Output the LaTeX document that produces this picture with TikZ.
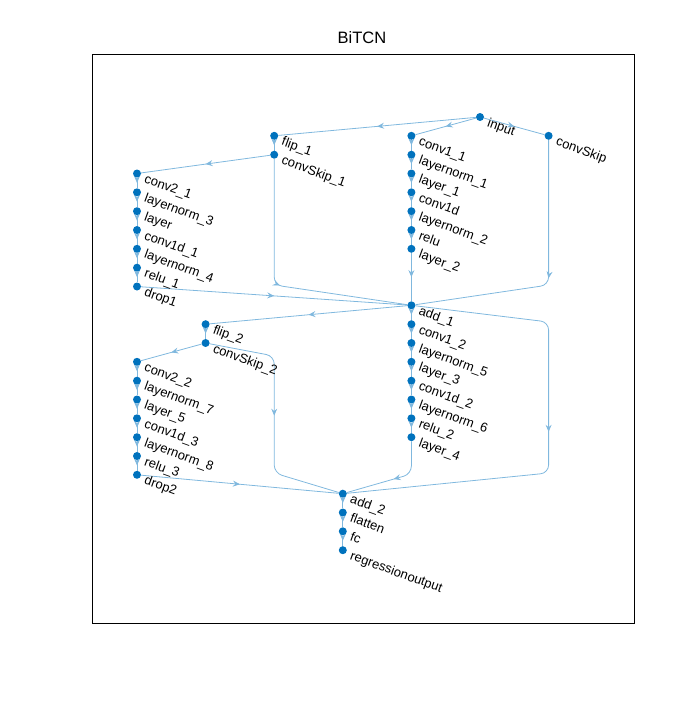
\documentclass[tikz,border=0pt]{standalone}
\usepackage{fontspec}
\setmainfont{Liberation Sans}
\usetikzlibrary{decorations.markings,arrows.meta}
\definecolor{nodeblue}{HTML}{0072BD}
\definecolor{edgeblue}{HTML}{80B8DE}
\pgfdeclarelayer{bg}
\pgfsetlayers{bg,main}
\tikzset{
  lnode/.style={circle, fill=nodeblue, inner sep=0pt, minimum size=8pt},
  lab/.style={rotate=-20, anchor=base west, inner sep=0pt, font=\fontsize{13}{15}\selectfont},
  edge/.style={color=edgeblue, line width=0.8pt, rounded corners=8pt, postaction={decorate},
    decoration={markings, mark=at position 0.5 with {\arrow{Stealth[length=7pt,width=6pt,inset=2.5pt]}}}},
}
\begin{document}
\begin{tikzpicture}[x=1pt,y=-1pt]
\useasboundingbox (0,0) rectangle (700,701);
\draw[line width=0.6pt] (92,54) rectangle (634,623);
\node[font=\fontsize{16.5}{18}\selectfont] (title) at (362,38) {BiTCN};
\foreach \n/\x/\y/\t in {
  input/480/117/input,
  convSkip/548.6/135.8/convSkip,
  conv11/411.4/135.8/conv1\_1,
  flip1/274.2/135.8/flip\_1,
  convSkip1/274.2/154.7/convSkip\_1,
  layernorm1/411.4/154.7/layernorm\_1,
  layer1/411.4/173.5/layer\_1,
  conv1d/411.4/192.3/conv1d,
  layernorm2/411.4/211.2/layernorm\_2,
  relu/411.4/230/relu,
  layer2/411.4/248.8/layer\_2,
  conv21/137/173.5/conv2\_1,
  layernorm3/137/192.3/layernorm\_3,
  layer/137/211.2/layer,
  conv1d1/137/230/conv1d\_1,
  layernorm4/137/248.8/layernorm\_4,
  relu1/137/267.7/relu\_1,
  drop1/137/286.5/drop1,
  add1/411.4/305.3/add\_1,
  flip2/205.6/324.2/flip\_2,
  convSkip2/205.6/343/convSkip\_2,
  conv12/411.4/324.2/conv1\_2,
  layernorm5/411.4/343/layernorm\_5,
  layer3/411.4/361.8/layer\_3,
  conv1d2/411.4/380.7/conv1d\_2,
  layernorm6/411.4/399.5/layernorm\_6,
  relu2/411.4/418.3/relu\_2,
  layer4/411.4/437.2/layer\_4,
  conv22/137/361.8/conv2\_2,
  layernorm7/137/380.7/layernorm\_7,
  layer5/137/399.5/layer\_5,
  conv1d3/137/418.3/conv1d\_3,
  layernorm8/137/437.2/layernorm\_8,
  relu3/137/456/relu\_3,
  drop2/137/474.8/drop2,
  add2/342.8/493.7/add\_2,
  flatten/342.8/512.5/flatten,
  fc/342.8/531.3/fc,
  regressionoutput/342.8/550.2/regressionoutput}{
  \node[lnode] (\n) at (\x,\y) {};
  \node[lab] (\n-l) at (\x+6.5,\y+9) {\t};
}
\begin{pgfonlayer}{bg}
\draw[edge] (input) -- (conv11);
\draw[edge] (input) -- (flip1);
\draw[edge] (input) -- (convSkip);
\foreach \a/\b in {conv11/layernorm1, layernorm1/layer1, layer1/conv1d, conv1d/layernorm2,
  layernorm2/relu, relu/layer2, layer2/add1, flip1/convSkip1, convSkip1/conv21,
  conv21/layernorm3, layernorm3/layer, layer/conv1d1, conv1d1/layernorm4, layernorm4/relu1,
  relu1/drop1, drop1/add1, add1/flip2, add1/conv12, conv12/layernorm5, layernorm5/layer3,
  layer3/conv1d2, conv1d2/layernorm6, layernorm6/relu2, relu2/layer4, flip2/convSkip2,
  convSkip2/conv22, conv22/layernorm7, layernorm7/layer5, layer5/conv1d3, conv1d3/layernorm8,
  layernorm8/relu3, relu3/drop2, drop2/add2, add2/flatten, flatten/fc, fc/regressionoutput}{
  \draw[edge] (\a) -- (\b);
}
\coordinate (c1) at (548.6,285);
\coordinate (c2) at (274.2,285);
\coordinate (c3) at (548.6,322);
\coordinate (c4) at (548.6,473);
\coordinate (c5) at (274.2,356);
\coordinate (c6) at (274.2,473);
\coordinate (c7) at (411.4,474);
\draw[edge] (convSkip) -- (c1) -- (add1);
\draw[edge] (convSkip1) -- (c2) -- (add1);
\draw[edge] (add1) -- (c3) -- (c4) -- (add2);
\draw[edge] (convSkip2) -- (c5) -- (c6) -- (add2);
\draw[edge] (layer4) -- (c7) -- (add2);
\end{pgfonlayer}
\end{tikzpicture}
\end{document}
